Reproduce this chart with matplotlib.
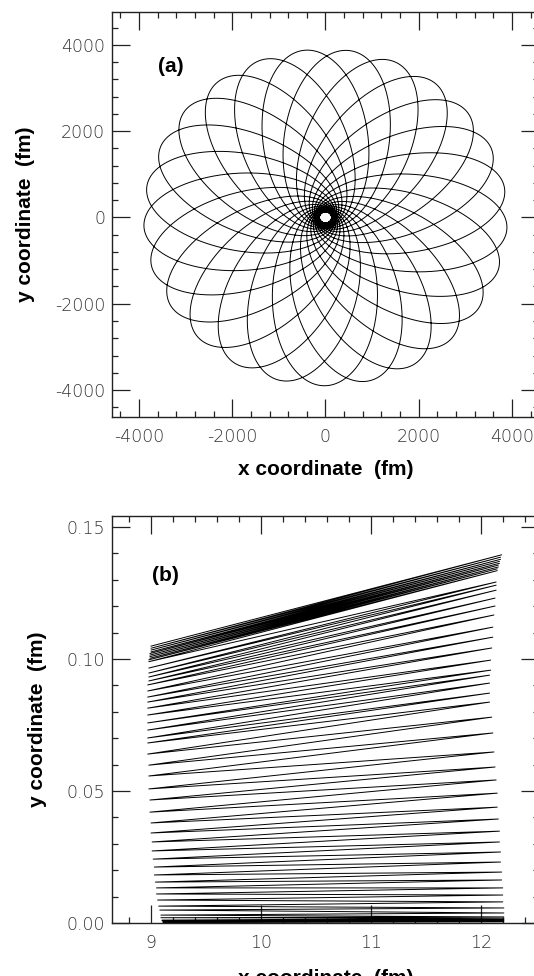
import numpy as np
import matplotlib.pyplot as plt
from matplotlib.ticker import MultipleLocator

# ---- panel (a): precessing orbit ----
r_apo = 3900.0      # fm, outer reach of the loops
r_peri = 130.0      # fm, radius of the empty hole at the centre
n_loops = 25        # number of loops, spread evenly round the centre
gamma = 25.0 / 41.0  # angular frequency ratio (fat loops, large precession)
phase0 = -4.0       # direction of the first apocentre (deg)

# ---- panel (b): zig-zag between the two turning points ----
left_y = [0.0002, 0.0005, 0.0008, 0.0011, 0.0020, 0.0030,
          0.0049, 0.0064, 0.0087, 0.0110, 0.0133, 0.0155, 0.0182, 0.0212, 0.0242, 0.0273,
          0.0307, 0.0341, 0.0379, 0.0420, 0.0466, 0.0508, 0.0557, 0.0598, 0.0640, 0.0682,
          0.0701, 0.0731, 0.0758, 0.0788, 0.0814, 0.0837, 0.0856, 0.0879, 0.0902, 0.0917,
          0.0932, 0.0947, 0.0966,
          0.0990, 0.0997, 0.1003, 0.1009, 0.1015, 0.1021, 0.1027, 0.1034, 0.1041, 0.1049]
left_x = [9.11, 9.11, 9.10, 9.10, 9.09, 9.09,
          9.08, 9.07, 9.06, 9.05, 9.05, 9.04, 9.03, 9.03, 9.02, 9.01,
          9.01, 9.00, 9.00, 8.99, 8.99, 8.98, 8.98, 8.98, 8.97, 8.97,
          8.97, 8.97, 8.97, 8.97, 8.97, 8.97, 8.97, 8.97, 8.97, 8.98,
          8.98, 8.98, 8.98,
          8.98, 8.98, 8.99, 8.99, 8.99, 8.99, 9.00, 9.00, 9.00, 9.00]
right_y = [0.0005, 0.0009, 0.0013, 0.0018, 0.0023, 0.0038,
           0.0057, 0.0080, 0.0106, 0.0133, 0.0163, 0.0193, 0.0231, 0.0269, 0.0307, 0.0348,
           0.0394, 0.0439, 0.0492, 0.0542, 0.0591, 0.0648, 0.0720, 0.0780, 0.0837, 0.0871,
           0.0909, 0.0939, 0.0958, 0.0996, 0.1042, 0.1083, 0.1121, 0.1167, 0.1201, 0.1231,
           0.1261, 0.1280, 0.1292,
           0.1335, 0.1342, 0.1349, 0.1356, 0.1363, 0.1370, 0.1378, 0.1386, 0.1395]
right_x = [12.21, 12.21, 12.21, 12.21, 12.21, 12.21,
           12.21, 12.20, 12.20, 12.20, 12.19, 12.19, 12.18, 12.18, 12.17, 12.17,
           12.16, 12.15, 12.15, 12.14, 12.13, 12.12, 12.11, 12.10, 12.08, 12.08,
           12.08, 12.08, 12.09, 12.09, 12.10, 12.11, 12.11, 12.12, 12.13, 12.13,
           12.14, 12.14, 12.14,
           12.15, 12.15, 12.16, 12.16, 12.17, 12.17, 12.18, 12.18, 12.19]

xticks_a = [-4000, -2000, 0, 2000, 4000]
yticks_a = [-4000, -2000, 0, 2000, 4000]
xticks_b = [9, 10, 11, 12]
yticks_b = [0.00, 0.05, 0.10, 0.15]

plt.rcParams['font.family'] = ['Liberation Sans', 'DejaVu Sans']

fig = plt.figure(figsize=(5.34, 9.76), dpi=100)
ax1 = fig.add_axes([0.2097, 0.5727, 0.7997, 0.4150])
ax2 = fig.add_axes([0.2097, 0.0543, 0.7997, 0.4170])


def style(ax, major_x, minor_x, major_y, minor_y):
    ax.xaxis.set_major_locator(MultipleLocator(major_x))
    ax.xaxis.set_minor_locator(MultipleLocator(minor_x))
    ax.yaxis.set_major_locator(MultipleLocator(major_y))
    ax.yaxis.set_minor_locator(MultipleLocator(minor_y))
    ax.tick_params(which='both', direction='in', top=True, right=True,
                   width=0.9, color='#222222')
    ax.tick_params(which='major', length=13, labelsize=12.5, labelcolor='#333333')
    ax.tick_params(which='minor', length=4.5)
    ax.tick_params(axis='x', pad=8)
    ax.tick_params(axis='y', pad=5)
    for sp in ax.spines.values():
        sp.set_linewidth(1.0)
        sp.set_color('#222222')


def light_labels(ax):
    for lab in ax.get_xticklabels() + ax.get_yticklabels():
        lab.set_fontfamily('DejaVu Sans')
        lab.set_fontweight('light')


# panel (a): r = p / (1 - e cos(gamma*phi)), apocentre at phi = 0
e = (r_apo - r_peri) / (r_apo + r_peri)
p = r_peri * (1 + e)
phi = np.linspace(-np.pi / gamma, (2 * n_loops - 1) * np.pi / gamma, 450000)
r = p / (1 - e * np.cos(gamma * phi))
ph = phi + np.deg2rad(phase0)
ax1.plot(r * np.cos(ph), r * np.sin(ph), color='black', lw=0.7)
ax1.set_xlim(-4580, 4580)
ax1.set_ylim(-4625, 4760)
style(ax1, 2000, 400, 2000, 400)
ax1.set_xticks(xticks_a)
ax1.set_yticks(yticks_a)
ax1.set_xticklabels([str(v) for v in xticks_a])
ax1.set_yticklabels([str(v) for v in yticks_a])
light_labels(ax1)
ax1.text(0.138, 0.866, '(a)', transform=ax1.transAxes, fontsize=15,
         fontweight='bold', ha='center', va='center')
ax1.set_xlabel('x coordinate  (fm)', fontsize=15, fontweight='bold', labelpad=10)
ax1.set_ylabel('y coordinate  (fm)', fontsize=15, fontweight='bold', labelpad=14)

# panel (b)
xs, ys = [], []
for i in range(len(right_y)):
    xs += [left_x[i], right_x[i]]
    ys += [left_y[i], right_y[i]]
xs.append(left_x[-1])
ys.append(left_y[-1])
ax2.plot(xs, ys, color='black', lw=0.7)
ax2.set_xlim(8.645, 12.53)
ax2.set_ylim(0.0, 0.1542)
style(ax2, 1, 0.2, 0.05, 0.01)
ax2.set_xticks(xticks_b)
ax2.set_yticks(yticks_b)
ax2.set_xticklabels([str(v) for v in xticks_b])
ax2.set_yticklabels(['%.2f' % v for v in yticks_b])
light_labels(ax2)
ax2.text(0.125, 0.854, '(b)', transform=ax2.transAxes, fontsize=15,
         fontweight='bold', ha='center', va='center')
ax2.set_xlabel('x coordinate  (fm)', fontsize=15, fontweight='bold', labelpad=12)
ax2.set_ylabel('y coordinate  (fm)', fontsize=15, fontweight='bold', labelpad=14)

fig.savefig('out.png', dpi=100)
